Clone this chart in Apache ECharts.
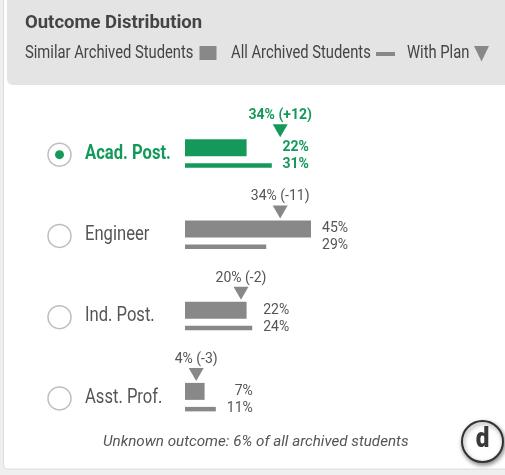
<!DOCTYPE html>
<html>
<head>
<meta charset="utf-8">
<script src="https://cdn.jsdelivr.net/npm/echarts@6/dist/echarts.min.js"></script>
<style>
html,body{margin:0;padding:0;background:#efefef;}
#chart{width:505px;height:475px;}
</style>
</head>
<body>
<div id="chart"></div>
<script>
// ---- data ----
var categories = ['Acad. Post.', 'Engineer', 'Ind. Post.', 'Asst. Prof.'];
var similarArchived = [22, 45, 22, 7];   // bar, %
var allArchived = [31, 29, 24, 11];      // thin bar, %
var withPlan = [34, 34, 20, 4];          // triangle, %
var selectedIndex = 0;
var legendLabels = ['Similar Archived Students', 'All Archived Students', 'With Plan'];
var titleText = 'Outcome Distribution';
var footnote = 'Unknown outcome: 6% of all archived students';
var badge = 'd';

var GREEN = '#14995a';
var GREY = '#888888';
var TEXT = '#555555';

var rows = categories.map(function (c, i) {
  return [c, similarArchived[i], allArchived[i], withPlan[i]];
});

function renderRow(params, api) {
  var idx = params.dataIndex;
  var sim = api.value(1), all = api.value(2), plan = api.value(3);
  var base = api.coord([0, idx]);
  var x0 = base[0], c = base[1];
  var xs = api.coord([sim, idx])[0];
  var xa = api.coord([all, idx])[0];
  var xp = api.coord([plan, idx])[0];
  var sel = idx === selectedIndex;
  var col = sel ? GREEN : GREY;
  var tcol = sel ? GREEN : TEXT;
  var wt = sel ? 'bold ' : '';
  var delta = plan - sim;
  var planLabel = plan + '% (' + (delta > 0 ? '+' : '') + delta + ')';
  var labX = Math.max(xs, xa) + 37;
  var children = [
    {type: 'circle', shape: {cx: 59.5, cy: c + 1, r: 11.5},
      style: {fill: '#ffffff', stroke: '#bdbdbd', lineWidth: 1.5}},
    {type: 'text', x: 85, y: c, scaleX: 0.83, scaleY: 1.03,
      style: {text: categories[idx], font: wt + '20px Roboto', fill: tcol,
        textAlign: 'left', textVerticalAlign: 'middle', align: 'left', verticalAlign: 'middle'}},
    {type: 'rect', shape: {x: x0, y: c - 14.5, width: xs - x0, height: 17}, style: {fill: col}},
    {type: 'rect', shape: {x: x0, y: c + 9.5, width: xa - x0, height: 4.5}, style: {fill: col}},
    {type: 'polygon', shape: {points: [[xp - 7.5, c - 29.5], [xp + 7.5, c - 29.5], [xp, c - 16.5]]},
      style: {fill: col}},
    {type: 'text', x: xp, y: c - 38,
      style: {text: planLabel, font: wt + '14px Roboto', fill: tcol,
        textAlign: 'center', textVerticalAlign: 'middle', align: 'center', verticalAlign: 'middle'}},
    {type: 'text', x: labX, y: c - 6,
      style: {text: sim + '%', font: wt + '14px Roboto', fill: tcol,
        textAlign: 'right', textVerticalAlign: 'middle', align: 'right', verticalAlign: 'middle'}},
    {type: 'text', x: labX, y: c + 11,
      style: {text: all + '%', font: wt + '14px Roboto', fill: tcol,
        textAlign: 'right', textVerticalAlign: 'middle', align: 'right', verticalAlign: 'middle'}}
  ];
  if (sel) {
    children.push({type: 'circle', shape: {cx: 59.5, cy: c + 1, r: 4.5}, style: {fill: GREEN}});
  }
  return {type: 'group', children: children};
}

var chart = echarts.init(document.getElementById('chart'), null, {renderer: 'canvas'});
chart.setOption({
  backgroundColor: '#efefef',
  animation: false,
  grid: {left: 185, width: 280, top: 113, height: 325},
  xAxis: {type: 'value', min: 0, max: 100, show: false},
  yAxis: {type: 'category', data: categories, inverse: true, show: false},
  graphic: [
    {type: 'rect', z: -10, shape: {x: 3.5, y: -10, width: 520, height: 479, r: 4},
      style: {fill: '#ffffff', stroke: '#dcdcdc', lineWidth: 1}},
    {type: 'rect', z: -9, shape: {x: 7, y: -10, width: 510, height: 95, r: [0, 0, 0, 6]},
      style: {fill: '#e4e4e4'}},
    {type: 'text', x: 25, y: 23,
      style: {text: titleText, font: 'bold 18.5px Roboto', fill: '#444444',
        textAlign: 'left', textVerticalAlign: 'middle', align: 'left', verticalAlign: 'middle'}},
    {type: 'text', x: 25, y: 53.5, scaleX: 0.82,
      style: {text: legendLabels[0], font: '18px Roboto', fill: '#444444',
        textAlign: 'left', textVerticalAlign: 'middle', align: 'left', verticalAlign: 'middle'}},
    {type: 'rect', shape: {x: 199.5, y: 46, width: 17, height: 14}, style: {fill: GREY}},
    {type: 'text', x: 231, y: 53.5, scaleX: 0.82,
      style: {text: legendLabels[1], font: '18px Roboto', fill: '#444444',
        textAlign: 'left', textVerticalAlign: 'middle', align: 'left', verticalAlign: 'middle'}},
    {type: 'rect', shape: {x: 376, y: 52, width: 19, height: 4}, style: {fill: GREY}},
    {type: 'text', x: 407, y: 53.5, scaleX: 0.82,
      style: {text: legendLabels[2], font: '18px Roboto', fill: '#444444',
        textAlign: 'left', textVerticalAlign: 'middle', align: 'left', verticalAlign: 'middle'}},
    {type: 'polygon', shape: {points: [[474, 46], [489, 46], [481.5, 61.5]]}, style: {fill: GREY}},
    {type: 'text', x: 103, y: 442,
      style: {text: footnote, font: 'italic 15.2px Roboto', fill: TEXT,
        textAlign: 'left', textVerticalAlign: 'middle', align: 'left', verticalAlign: 'middle'}},
    {type: 'circle', shape: {cx: 482.5, cy: 441.5, r: 20.5},
      style: {fill: '#ffffff', stroke: '#333333', lineWidth: 2,
        shadowBlur: 4, shadowColor: 'rgba(0,0,0,0.45)', shadowOffsetY: 2, shadowOffsetX: 1}},
    {type: 'text', x: 482.5, y: 440, scaleX: 0.9,
      style: {text: badge, font: '900 27px Roboto', fill: '#3a3a3a',
        textAlign: 'center', textVerticalAlign: 'middle', align: 'center', verticalAlign: 'middle'}}
  ],
  series: [{
    type: 'custom',
    clip: false,
    renderItem: renderRow,
    encode: {y: 0, x: [1, 2, 3]},
    data: rows
  }]
});
</script>
</body>
</html>
